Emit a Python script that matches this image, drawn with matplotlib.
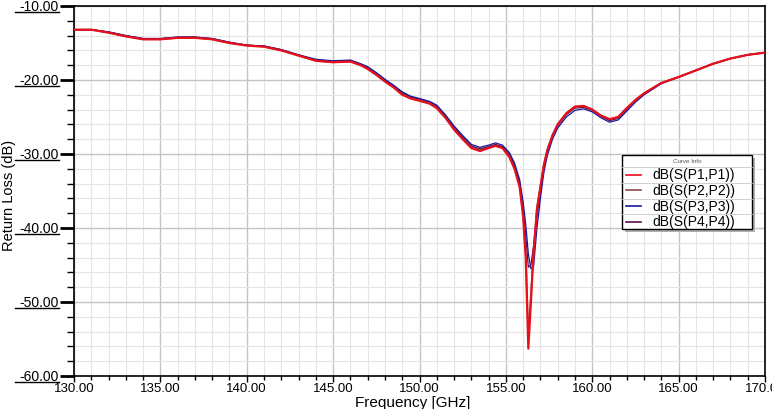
import matplotlib
matplotlib.use("Agg")
import matplotlib.pyplot as plt
from matplotlib.patches import Rectangle
from matplotlib.lines import Line2D
from matplotlib.ticker import MultipleLocator
from matplotlib import transforms

plt.rcParams['font.family'] = ['Liberation Sans', 'DejaVu Sans']

# frequency points [GHz]
freq = [130.0, 131.0, 132.0, 133.0, 134.0, 135.0, 136.0, 137.0, 138.0, 139.0,
        140.0, 141.0, 142.0, 143.0, 144.0, 145.0, 146.0, 146.6, 147.0, 147.5,
        148.0, 148.5, 149.0, 149.5, 150.0, 150.6, 151.0, 151.5, 152.0, 152.5,
        153.0, 153.5, 154.0, 154.4, 154.8, 155.2, 155.5, 155.8, 156.0, 156.15,
        156.3, 156.45, 156.6, 156.8, 157.0, 157.2, 157.4, 157.7, 158.0, 158.5,
        159.0, 159.5, 160.0, 160.5, 161.0, 161.5, 162.0, 162.5, 163.0, 164.0,
        165.0, 166.0, 167.0, 168.0, 169.0, 170.0]

s11 = [-13.2, -13.2, -13.6, -14.1, -14.5, -14.5, -14.3, -14.3, -14.5, -15.0,
       -15.35, -15.5, -16.0, -16.7, -17.4, -17.6, -17.5, -18.0, -18.5, -19.3,
       -20.2, -21.0, -22.0, -22.5, -22.8, -23.2, -23.8, -25.1, -26.7, -28.0,
       -29.2, -29.6, -29.2, -28.9, -29.2, -30.4, -32.0, -34.5, -38.5, -44.0,
       -56.3, -50.0, -43.5, -37.5, -34.5, -31.5, -29.5, -27.5, -26.0, -24.5,
       -23.6, -23.5, -24.0, -24.8, -25.3, -25.0, -23.8, -22.7, -21.8, -20.4,
       -19.6, -18.7, -17.8, -17.1, -16.6, -16.3]

s22 = [-13.2, -13.2, -13.6, -14.1, -14.5, -14.5, -14.3, -14.3, -14.5, -15.0,
       -15.3, -15.5, -16.0, -16.7, -17.4, -17.6, -17.5, -18.0, -18.5, -19.3,
       -20.2, -21.0, -21.9, -22.5, -22.8, -23.2, -23.8, -25.0, -26.6, -27.9,
       -29.1, -29.5, -29.1, -28.8, -29.1, -30.3, -31.9, -34.3, -38.2, -43.5,
       -54.5, -49.0, -43.0, -37.2, -34.3, -31.4, -29.4, -27.4, -26.0, -24.5,
       -23.6, -23.5, -24.0, -24.8, -25.3, -25.0, -23.8, -22.7, -21.8, -20.4,
       -19.6, -18.7, -17.8, -17.1, -16.6, -16.3]

s33 = [-13.2, -13.2, -13.5, -14.0, -14.4, -14.4, -14.2, -14.2, -14.4, -14.9,
       -15.3, -15.4, -15.9, -16.6, -17.2, -17.4, -17.3, -17.8, -18.2, -19.0,
       -19.9, -20.7, -21.6, -22.2, -22.5, -22.9, -23.4, -24.7, -26.2, -27.5,
       -28.7, -29.1, -28.8, -28.5, -28.8, -29.8, -31.2, -33.5, -36.5, -39.5,
       -43.5, -45.5, -45.3, -40.0, -36.0, -32.5, -30.2, -28.0, -26.5, -25.0,
       -24.1, -23.9, -24.3, -25.1, -25.7, -25.4, -24.2, -23.0, -22.0, -20.5,
       -19.6, -18.7, -17.8, -17.1, -16.6, -16.3]

s44 = [-13.2, -13.2, -13.5, -14.0, -14.4, -14.4, -14.2, -14.2, -14.4, -14.9,
       -15.3, -15.4, -15.9, -16.6, -17.3, -17.5, -17.4, -17.9, -18.3, -19.1,
       -20.0, -20.8, -21.7, -22.3, -22.6, -23.0, -23.5, -24.8, -26.4, -27.7,
       -28.9, -29.3, -29.0, -28.7, -29.0, -30.0, -31.5, -33.9, -37.2, -41.0,
       -45.3, -45.0, -42.5, -38.5, -35.3, -32.0, -29.8, -27.7, -26.2, -24.7,
       -23.8, -23.7, -24.1, -24.9, -25.5, -25.2, -24.0, -22.8, -21.9, -20.4,
       -19.6, -18.7, -17.8, -17.1, -16.6, -16.3]

names = ['dB(S(P1,P1))', 'dB(S(P2,P2))', 'dB(S(P3,P3))', 'dB(S(P4,P4))']
colors = ['#e8101a', '#8c4a4e', '#1a1a9a', '#5a1050']

W, H = 772, 410
fig = plt.figure(figsize=(W/100, H/100), dpi=100)
ax = fig.add_axes([74/W, 1-377/H, 691/W, 370/H])

ax.set_xlim(130, 170)
ax.set_ylim(-60, -10)
ax.xaxis.set_major_locator(MultipleLocator(5))
ax.xaxis.set_minor_locator(MultipleLocator(1))
ax.yaxis.set_major_locator(MultipleLocator(10))
ax.yaxis.set_minor_locator(MultipleLocator(2))
ax.grid(which='major', color='#c4c4c4', lw=1.0)
ax.grid(which='minor', color='#e4e4e4', lw=0.8)
ax.set_axisbelow(True)
ax.tick_params(axis='y', which='major', direction='out', length=10, width=2, labelleft=False)
ax.tick_params(axis='y', which='minor', direction='out', length=5, width=1)
ax.tick_params(axis='x', which='major', direction='out', length=4, width=1, labelsize=9.5, pad=0)
ax.tick_params(axis='x', which='minor', direction='out', length=3, width=1)
ax.set_xticks(range(130, 171, 5))
ax.set_xticklabels([f'{v:.2f}' for v in range(130, 171, 5)])
for sp in ax.spines.values():
    sp.set_color('black')
    sp.set_linewidth(1.2)

series = [s11, s22, s33, s44]
lws = [1.6, 1.2, 0.9, 0.9]
order = [1, 3, 2, 0]
for i in order:
    ax.plot(freq, series[i], color=colors[i], lw=lws[i], zorder=3)

# underlined y tick labels
tr = transforms.blended_transform_factory(fig.transFigure, ax.transData)
ul = tr + transforms.ScaledTranslation(0, -6/100, fig.dpi_scale_trans)
for v in range(-60, -9, 10):
    fig.text(59/W, v, f'{v:.2f}', transform=tr, ha='right', va='center', fontsize=10)
    fig.add_artist(Line2D([15/W, 59/W], [v, v], transform=ul, color='black', lw=1))

fig.text(9/W, 1-195/H, 'Return Loss (dB)', rotation=90, ha='center', va='center', fontsize=10.5)
fig.text(413/W, 1-403/H, 'Frequency [GHz]', ha='center', va='center', fontsize=11)

# legend box (HFSS style)
def fx(x): return x/W
def fy(y): return 1-y/H
lx0, lx1, ly0, ly1 = 622, 752, 156, 230
fig.add_artist(Rectangle((fx(lx0+3), fy(ly1+3)), (lx1-lx0)/W, (ly1-ly0)/H,
                         transform=fig.transFigure, facecolor='#b0b0b0', edgecolor='none', zorder=5))
fig.add_artist(Rectangle((fx(lx0), fy(ly1)), (lx1-lx0)/W, (ly1-ly0)/H,
                         transform=fig.transFigure, facecolor='white', edgecolor='black', lw=1, zorder=6))
fig.text(fx((lx0+lx1)/2), fy(162), 'Curve Info', ha='center', va='center', fontsize=4.5,
         color='#555555', zorder=7)
rows = [175.5, 191, 207, 222.5]
for k, yy in enumerate(rows):
    fig.add_artist(Line2D([fx(lx0), fx(lx1)], [fy(yy-7.5), fy(yy-7.5)], transform=fig.transFigure,
                          color='#c8c8c8', lw=0.6, zorder=7))
    fig.add_artist(Line2D([fx(626), fx(641)], [fy(yy), fy(yy)], transform=fig.transFigure,
                          color=colors[k], lw=1.2, zorder=7))
    fig.text(fx(652), fy(yy), names[k], ha='left', va='center', fontsize=10, zorder=7)

fig.savefig('out.png', dpi=100)
